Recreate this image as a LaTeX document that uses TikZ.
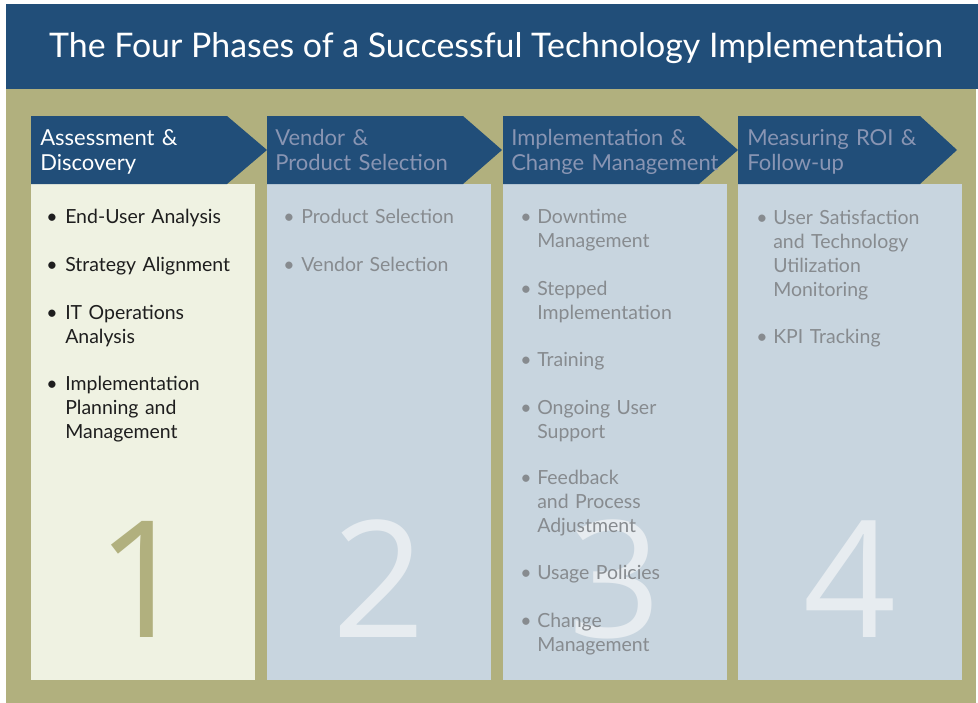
\documentclass[tikz,border=0pt]{standalone}
\usepackage{fontspec}
\setmainfont{Lato}
\newfontfamily\numfont{Open Sans}
\usepackage{xcolor}
\usetikzlibrary{calc}

\definecolor{titleblue}{RGB}{33,78,121}
\definecolor{olive}{RGB}{177,176,126}
\definecolor{cream}{RGB}{239,242,226}
\definecolor{panelblue}{RGB}{200,213,223}
\definecolor{dimhead}{RGB}{137,149,179}
\definecolor{dimtext}{RGB}{135,139,143}
\definecolor{ghost}{RGB}{231,236,240}
\definecolor{ink}{RGB}{30,30,30}

\tikzset{
  hdr/.style={fill=titleblue,draw=none},
  hdrtext/.style={anchor=base west,inner sep=0pt,text width=170pt,align=left,
    font=\fontsize{16.5}{18.75}\selectfont},
  item/.style={anchor=base west,inner sep=0pt,text width=150pt,align=left,
    font=\fontsize{14.6}{18}\selectfont},
  dot/.style={anchor=base,inner sep=0pt,font=\fontsize{14.6}{18}\selectfont},
  bignum/.style={anchor=base,inner sep=0pt,font=\numfont\fontsize{122}{122}\selectfont}
}

\begin{document}
\begin{tikzpicture}[x=0.75pt,y=-0.75pt]
        \useasboundingbox (0,0) rectangle (978,703);
        % title bar and background
        \fill[olive] (6,89) rectangle (976,703);
        \fill[titleblue] (6,4) rectangle (978,89);
        \node[anchor=base,inner sep=0pt,text=white,font=\fontsize{25.4}{30}\selectfont]
            (title) at (496,57) {The Four Phases of a Successful Technology Implementation};
        % panels
        \fill[cream] (31,184) rectangle (255,680);
        \fill[panelblue] (267,184) rectangle (491,680);
        \fill[panelblue] (503,184) rectangle (727,680);
        \fill[panelblue] (738,184) rectangle (962,680);
        % big numbers behind the text
        \node[bignum,text=olive] (n1) at (143,637) {1};
        \node[bignum,text=ghost] (n2) at (379,637) {2};
        \node[bignum,text=ghost] (n3) at (615,637) {3};
        \node[bignum,text=ghost] (n4) at (850,637) {4};
        % headers
        \draw[hdr] (31,116) -- ++(196,0) -- ++(40,34) -- ++(-40,34) -- ++(-196,0) -- cycle;
        \draw[hdr] (267,116) -- ++(196,0) -- ++(39,34) -- ++(-39,34) -- ++(-196,0) -- cycle;
        \draw[hdr] (503,116) -- ++(196,0) -- ++(39,34) -- ++(-39,34) -- ++(-196,0) -- cycle;
        \draw[hdr] (738,116) -- ++(182,0) -- ++(37,34) -- ++(-37,34) -- ++(-182,0) -- cycle;
        \node[hdrtext,text=white] (h1) at (40,145) {Assessment \&\\Discovery};
        \node[hdrtext,text=dimhead] (h2) at (275,145) {Vendor \&\\Product Selection};
        \node[hdrtext,text=dimhead] (h3) at (511,145) {Implementation \&\\Change Management};
        \node[hdrtext,text=dimhead] (h4) at (747,145) {Measuring ROI \&\\Follow-up};
        % phase 1
        \foreach \y/\t [count=\k] in {223/{End-User Analysis},271/{Strategy Alignment},
            319/{IT Operations\\Analysis},390/{Implementation\\Planning and\\Management}} {
            \node[dot,text=ink] (b1\k) at (52,\y) {\textbullet};
            \node[item,text=ink] (p1\k) at (65,\y) {\t};
        }
        % phase 2
        \foreach \y/\t [count=\k] in {223/{Product Selection},271/{Vendor Selection}} {
            \node[dot,text=dimtext] (b2\k) at (289,\y) {\textbullet};
            \node[item,text=dimtext] (p2\k) at (301,\y) {\t};
        }
        % phase 3
        \foreach \y/\t [count=\k] in {223/{Downtime\\Management},295/{Stepped\\Implementation},
            366/{Training},414/{Ongoing User\\Support},484/{Feedback\\and Process\\Adjustment},
            579/{Usage Policies},627/{Change\\Management}} {
            \node[dot,text=dimtext] (b3\k) at (526,\y) {\textbullet};
            \node[item,text=dimtext] (p3\k) at (537,\y) {\t};
        }
        % phase 4
        \foreach \y/\t [count=\k] in {224/{User Satisfaction\\and Technology\\Utilization\\Monitoring},
            343/{KPI Tracking}} {
            \node[dot,text=dimtext] (b4\k) at (762,\y) {\textbullet};
            \node[item,text=dimtext] (p4\k) at (773,\y) {\t};
        }
    \end{tikzpicture}
\end{document}
